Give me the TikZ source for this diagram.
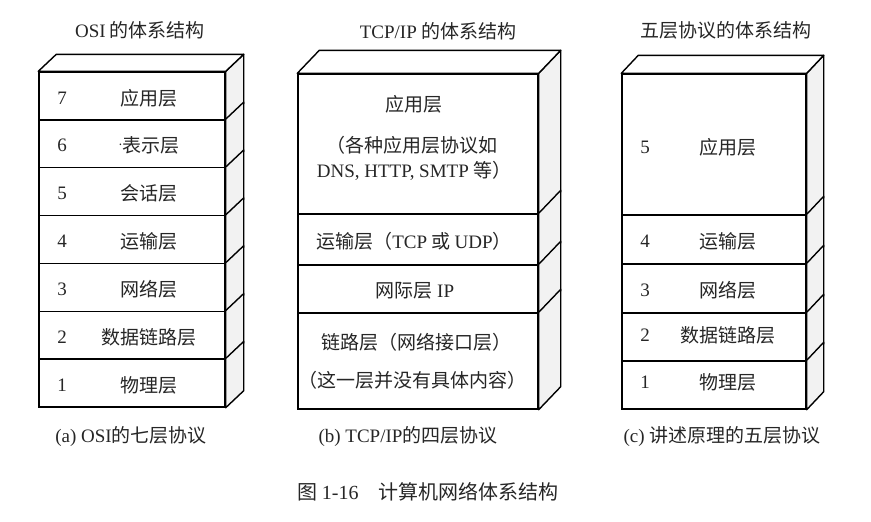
\documentclass[tikz,border=0pt]{standalone}
\usepackage{fontspec}
\setmainfont{Liberation Serif}
\newfontfamily\cjk{Noto Sans CJK SC}
\usetikzlibrary{positioning}

\begin{document}
\begin{tikzpicture}[
    x=1pt, y=-1pt,
    layer/.style={draw, rectangle, line width=1.4pt, fill=white, inner sep=0pt},
    side/.style={draw, line width=1.4pt, fill=gray!10, line join=round},
    topface/.style={draw, line width=1.4pt, fill=white, line join=round},
    lbl/.style={font=\cjk\fontsize{19}{22}\selectfont, text=black!85, inner sep=1pt},
    num/.style={font=\fontsize{19}{22}\selectfont, text=black!85, inner sep=1pt}
]
\useasboundingbox (0,0) rectangle (871,522);

% titles
\node[lbl] (ta) at (140,30) {{\rmfamily OSI} 的体系结构};
\node[lbl] (tb) at (438,31) {{\rmfamily TCP/IP} 的体系结构};
\node[lbl] (tc) at (726,30) {五层协议的体系结构};

% (a) OSI
\foreach \n/\txt [count=\i] in {7/应用层, 6/{\fontsize{12}{12}\selectfont\raisebox{1.1ex}{.}}表示层, 5/会话层, 4/运输层, 3/网络层, 2/数据链路层, 1/物理层} {
  \node[layer, minimum width=186pt, minimum height=47.86pt] (a\n) at (132, {72+(\i-0.5)*47.86}) {};
  \filldraw[side] (a\n.north east) -- ++(18,-17) -- ([shift={(18,-17)}]a\n.south east) -- (a\n.south east) -- cycle;
  \node[num] (an\n) at (62, {74+(\i-0.5)*47.86}) {\n};
  \node[lbl] (al\n) at (149, {74+(\i-0.5)*47.86}) {\txt};
}
\filldraw[topface] (a7.north west) -- ++(18,-17) -- ([shift={(18,-17)}]a7.north east) -- (a7.north east) -- cycle;

% (b) TCP/IP
\node[layer, minimum width=240pt, minimum height=140pt] (b4) at (418,144) {};
\node[layer, minimum width=240pt, minimum height=51pt] (b3) at (418,239.5) {};
\node[layer, minimum width=240pt, minimum height=48pt] (b2) at (418,289) {};
\node[layer, minimum width=240pt, minimum height=96pt] (b1) at (418,361) {};
\foreach \n in {4,3,2,1}
  \filldraw[side] (b\n.north east) -- ++(22,-23) -- ([shift={(22,-23)}]b\n.south east) -- (b\n.south east) -- cycle;
\filldraw[topface] (b4.north west) -- ++(22,-23) -- ([shift={(22,-23)}]b4.north east) -- (b4.north east) -- cycle;
\node[lbl] (bl4) at (414,104) {应用层};
\node[lbl] (bl4a) at (412,145) {（各种应用层协议如};
\node[lbl] (bl4b) at (414,171) {{\rmfamily DNS, HTTP, SMTP} 等）};
\node[lbl] (bl3) at (414,241) {运输层（{\rmfamily TCP} 或 {\rmfamily UDP}）};
\node[lbl] (bl2) at (415,291) {网际层 {\rmfamily IP}};
\node[lbl] (bl1a) at (416,342) {链路层（网络接口层）};
\node[lbl] (bl1b) at (412,380) {（这一层并没有具体内容）};

% (c) five layers
\node[layer, minimum width=184pt, minimum height=141pt] (c5) at (714,144.5) {};
\node[layer, minimum width=184pt, minimum height=49pt] (c4) at (714,239.5) {};
\node[layer, minimum width=184pt, minimum height=49pt] (c3) at (714,288.5) {};
\node[layer, minimum width=184pt, minimum height=48pt] (c2) at (714,337) {};
\node[layer, minimum width=184pt, minimum height=48pt] (c1) at (714,385) {};
\foreach \n in {5,4,3,2,1}
  \filldraw[side] (c\n.north east) -- ++(17,-18) -- ([shift={(17,-18)}]c\n.south east) -- (c\n.south east) -- cycle;
\filldraw[topface] (c5.north west) -- ++(17,-18) -- ([shift={(17,-18)}]c5.north east) -- (c5.north east) -- cycle;
\foreach \n/\txt/\yy in {5/应用层/147, 4/运输层/241, 3/网络层/290, 2/数据链路层/335, 1/物理层/382} {
  \node[num] (cn\n) at (645,\yy) {\n};
  \node[lbl] (cl\n) at (728,\yy) {\txt};
}

% captions
\node[lbl] (ca) at (131,437) {{\rmfamily (a) OSI}的七层协议};
\node[lbl] (cb) at (408,437) {{\rmfamily (b) TCP/IP}的四层协议};
\node[lbl] (cc) at (722,437) {{\rmfamily (c) }讲述原理的五层协议};
\node[lbl, font=\cjk\fontsize{20}{24}\selectfont] (fig) at (428,492) {图 {\rmfamily 1-16}\quad 计算机网络体系结构};
\end{tikzpicture}
\end{document}
